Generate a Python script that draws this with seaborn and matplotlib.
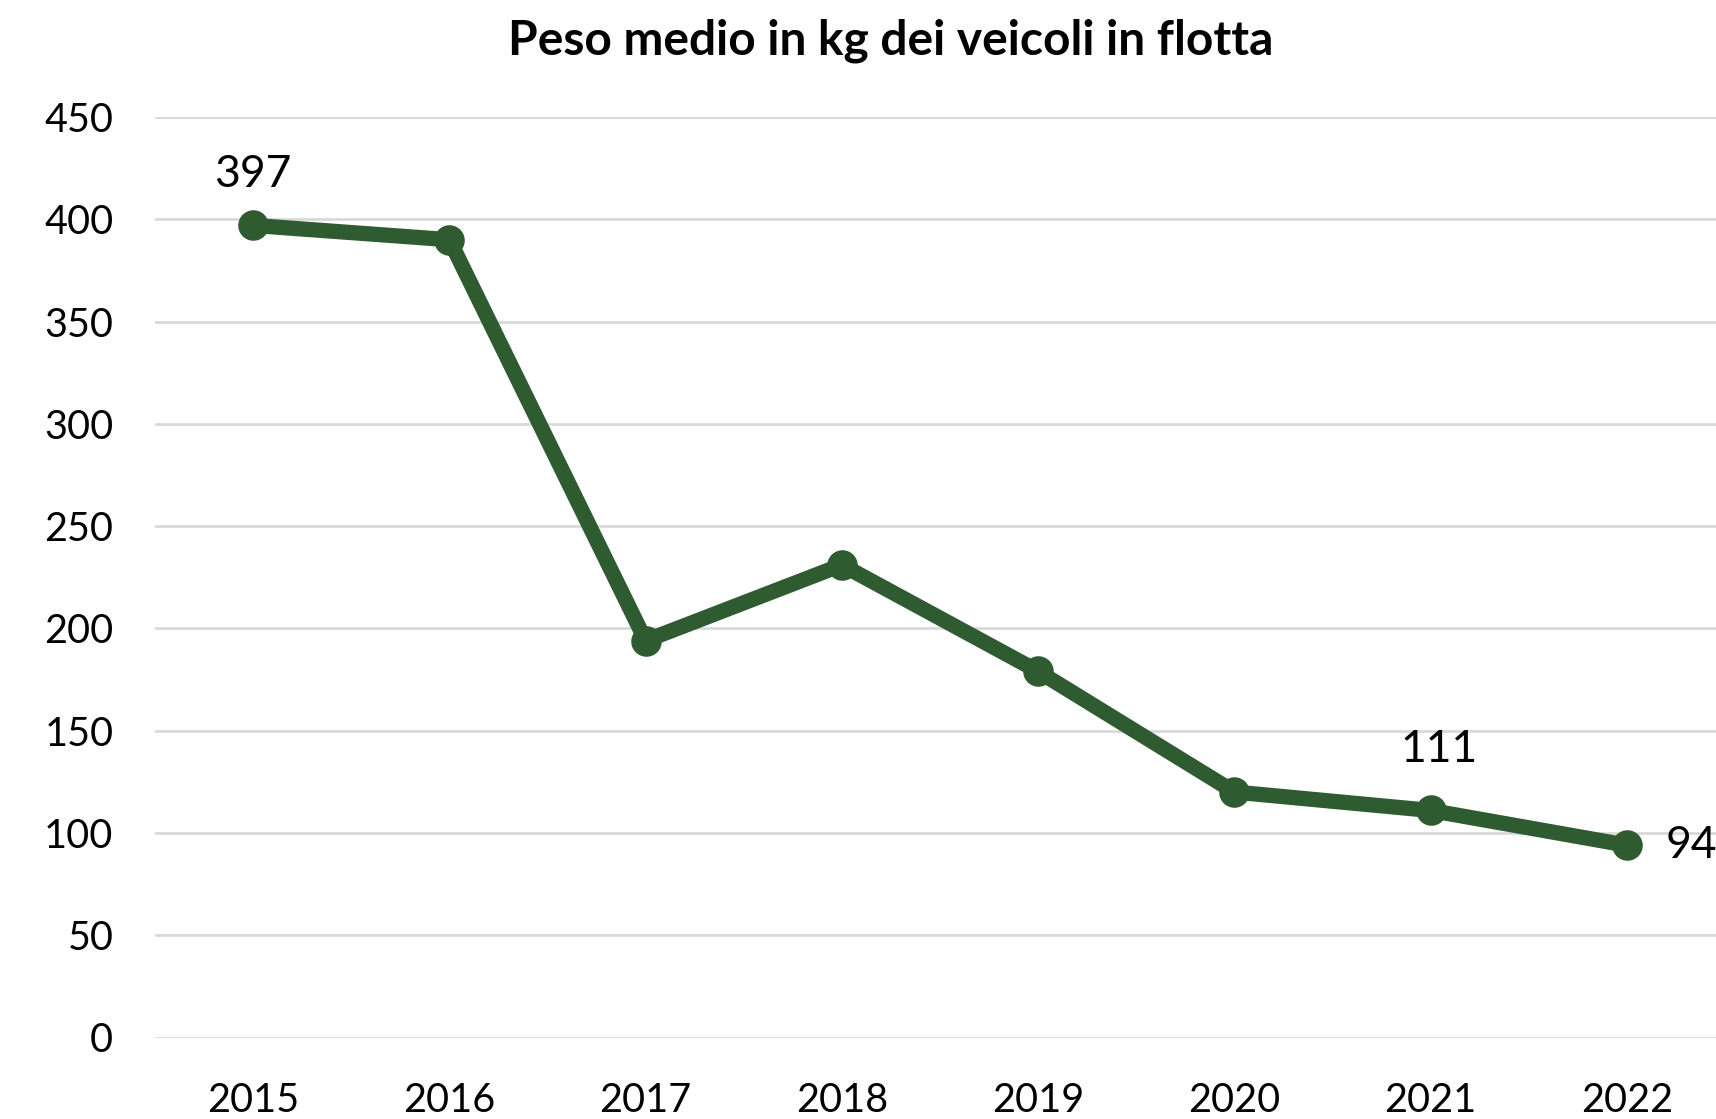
import pandas as pd
import matplotlib.pyplot as plt
import seaborn as sns

years = ['2015', '2016', '2017', '2018', '2019', '2020', '2021', '2022']
weights = [397, 390, 194, 231, 179, 120, 111, 94]
y_ticks = [0, 50, 100, 150, 200, 250, 300, 350, 400, 450]

df = pd.DataFrame({'anno': years, 'peso': weights})

sns.set_theme(style='white')
plt.rcParams['font.family'] = ['Lato', 'DejaVu Sans']

green = '#2f5b31'

fig = plt.figure(figsize=(17.16, 11.19), dpi=100)
# plot area runs slightly past the right edge, like the cropped original
ax = fig.add_axes([155 / 1716, 81.5 / 1119, 1570 / 1716, 920.5 / 1119])

sns.lineplot(data=df, x='anno', y='peso', ax=ax, color=green, linewidth=11,
             marker='o', markersize=22, markeredgewidth=0, sort=False)

ax.set_ylim(0, 450)
ax.set_xlim(-0.5, len(years) - 0.5)
ax.set_yticks(y_ticks)
ax.grid(axis='y', color='#d9d9d9', linewidth=2)
ax.set_axisbelow(True)
for s in ax.spines.values():
    s.set_visible(False)
ax.tick_params(axis='both', length=0, labelsize=28.5, colors='black')
ax.tick_params(axis='x', pad=32)
ax.tick_params(axis='y', pad=30)
ax.set_xlabel('')
ax.set_ylabel('')

# data labels shown in the original
ax.annotate('397', (0, weights[0]), xytext=(0, 22), textcoords='offset points',
            ha='center', va='bottom', fontsize=32, color='black')
ax.annotate('111', (6, weights[6]), xytext=(6, 29), textcoords='offset points',
            ha='center', va='bottom', fontsize=32, color='black')
ax.annotate('94', (7, weights[7]), xytext=(28, 0), textcoords='offset points',
            ha='left', va='center', fontsize=32, color='black')

fig.suptitle('Peso medio in kg dei veicoli in flotta', fontsize=34.5,
             fontweight='bold', y=1 - 40.5 / 1119, va='center', x=0.519,
             color='black')

fig.savefig('out.png', dpi=100)
